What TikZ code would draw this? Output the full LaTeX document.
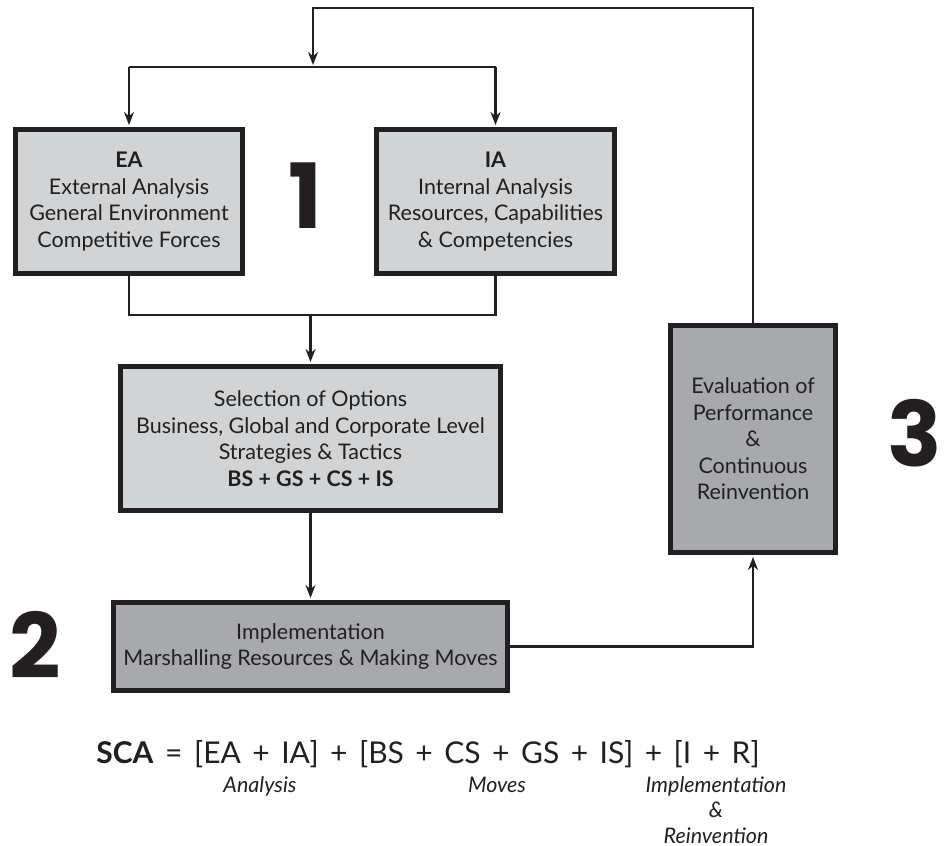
\documentclass[tikz,border=0pt]{standalone}
\usepackage{fontspec}
\setmainfont{Lato}
\newfontfamily\numfont{Poppins}
\usetikzlibrary{arrows.meta}
\definecolor{ink}{HTML}{231F20}
\definecolor{lightbox}{HTML}{D1D3D4}
\definecolor{darkbox}{HTML}{A7A9AC}
\begin{document}
\begin{tikzpicture}[x=1pt,y=-1pt,
  box/.style={draw=ink, line width=5pt, align=center, font=\fontsize{21.5}{26.5}\selectfont, text=ink, inner sep=0pt},
  light/.style={box, fill=lightbox},
  dark/.style={box, fill=darkbox},
  conn/.style={draw=ink, line width=2.3pt},
  arr/.style={conn, -{Stealth[length=13pt,width=10pt]}, shorten >=2pt},
  bignum/.style={font=\numfont\bfseries\fontsize{90}{90}\selectfont, text=ink, inner sep=0pt},
  formula/.style={font=\fontsize{30}{31}\selectfont, text=ink, inner sep=0pt, anchor=base},
  lab/.style={font=\itshape\fontsize{21.5}{22}\selectfont, text=ink, inner sep=0pt, anchor=base},
]
\useasboundingbox (0,0) rectangle (948,846);

% boxes
\node[light, minimum width=227pt, minimum height=144pt] (ea) at (129,201.5)
  {\textbf{EA}\\External Analysis\\General Environment\\Competitive Forces};
\node[light, minimum width=238pt, minimum height=144pt] (ia) at (495.5,201.5)
  {\textbf{IA}\\Internal Analysis\\Resources, Capabilities\\\& Competencies};
\node[light, minimum width=380pt, minimum height=144pt] (sel) at (310.5,438.5)
  {Selection of Options\\Business, Global and Corporate Level\\Strategies \& Tactics\\\textbf{BS + GS + CS + IS}};
\node[dark, minimum width=394pt, minimum height=88pt] (impl) at (310.5,646.5)
  {Implementation\\Marshalling Resources \& Making Moves};
\node[dark, minimum width=165pt, minimum height=227pt] (eval) at (753,439)
  {Evaluation of\\Performance\\\&\\Continuous\\Reinvention};

% numerals
\node[bignum] (n1) at (305,196) {1};
\node[bignum] (n2) at (35,645) {2};
\node[bignum] (n3) at (915,433) {3};

% connectors
\coordinate (topjoin) at (313,67);
\coordinate (botjoin) at (311,315);
\coordinate (toprow) at (313,8);
\draw[arr] (eval.north) |- (toprow) -- (topjoin);
\draw[conn] (ea.north |- topjoin) -- (ia.north |- topjoin);
\draw[arr] (ea.north |- topjoin) -- (ea.north);
\draw[arr] (ia.north |- topjoin) -- (ia.north);
\draw[conn] (ea.south) |- (ia.south |- botjoin) -- (ia.south);
\draw[arr] (sel.north |- botjoin) -- (sel.north);
\draw[arr] (sel.south) -- (impl.north);
\draw[arr] (impl.east) -| (eval.south);

% formula
\node[formula] (f) at (428,763) {\spaceskip=11.5pt\relax\textbf{SCA} = [EA + IA] + [BS + CS + GS + IS] + [I + R]};
\node[lab] (l1) at (260,792) {Analysis};
\node[lab] (l2) at (497,792) {Moves};
\node[lab] (l3) at (716,792) {Implementation};
\node[lab] (l4) at (716,817.5) {\&};
\node[lab] (l5) at (716,843) {Reinvention};
\end{tikzpicture}
\end{document}
